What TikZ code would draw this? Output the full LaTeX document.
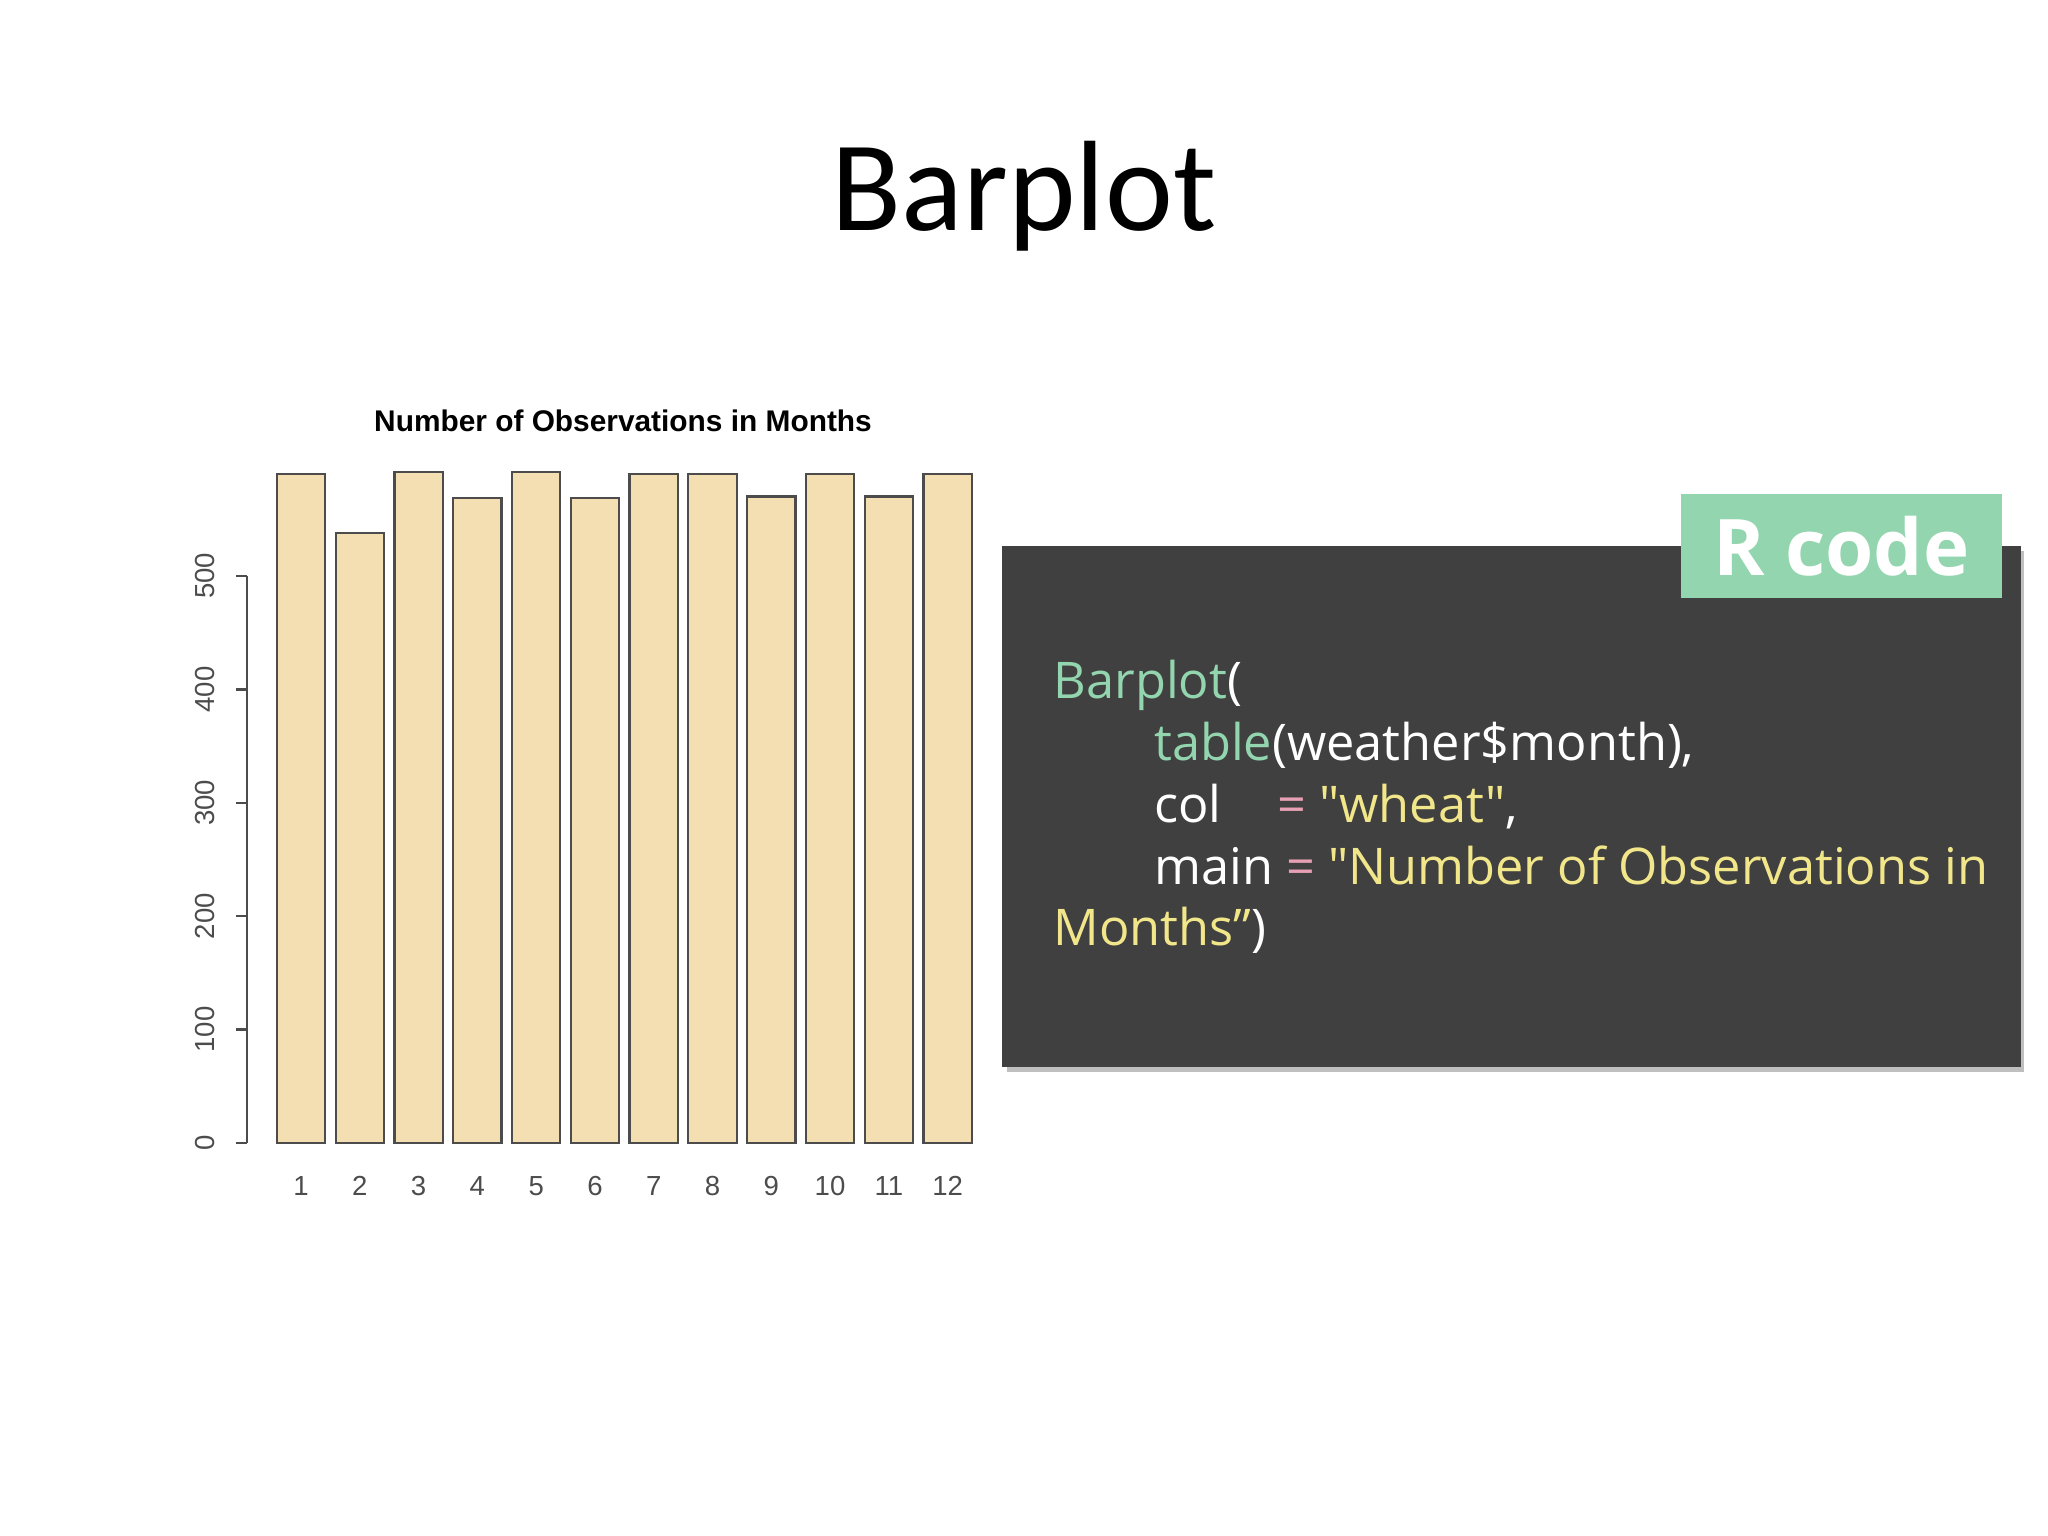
\documentclass[tikz,border=0pt]{standalone}
\usepackage{fontspec}
\setmainfont{Carlito}
\newfontfamily\codefont{Open Sans}
\newfontfamily\plotfont{Liberation Sans}
\begin{document}
\begin{tikzpicture}[x=0.01cm,y=-0.01cm,
  bar/.style={draw=black!70,fill=wheatc,line width=0.5pt},
  axis/.style={draw=black!70,line width=0.5pt},
  ylab/.style={font=\plotfont\fontsize{6}{7}\selectfont,text=black!70,rotate=90},
  xlab/.style={font=\plotfont\fontsize{6}{7}\selectfont,text=black!70},
  code/.style={font=\codefont\fontsize{11}{13}\selectfont,anchor=base west,inner sep=0}]
\definecolor{wheatc}{HTML}{F3DFB2}
\definecolor{boxc}{HTML}{404040}
\definecolor{greenc}{HTML}{92D5AE}
\definecolor{yelc}{HTML}{F2E68A}
\definecolor{pinkc}{HTML}{E8A0B4}
\useasboundingbox (0,0) rectangle (1568,1176);
\node (title) at (784,150) {\fontsize{28}{32}\selectfont Barplot};
\node (ptitle) at (477,322) {\plotfont\bfseries\fontsize{6.5}{8}\selectfont Number of Observations in Months};
\foreach \v [count=\i] in {590,538,592,569,592,569,590,590,570,590,570,590}{
  \pgfmathsetmacro\xl{212+(\i-1)*45}
  \draw[bar] (\xl,875) rectangle (\xl+37,875-\v*0.868);
  \node[xlab] (m\i) at (\xl+18.5,908) {\i};
}
\draw[axis] (189,441) -- (189,875);
\foreach \t in {0,100,...,500}{
  \draw[axis] (181,875-\t*0.868) -- (189,875-\t*0.868);
  \node[ylab] (y\t) at (157,875-\t*0.868) {\t};
}
\fill[black!25] (771,422) rectangle (1550,821);
\fill[boxc] (767,418) rectangle (1547,817);
\node[fill=greenc,minimum width=246*0.01cm,minimum height=79*0.01cm,inner sep=0,
  text=white,font=\codefont\bfseries\fontsize{17}{20}\selectfont] (tab) at (1410,418) {R code};
\node[code] (c1) at (806,535) {\textcolor{greenc}{Barplot}\textcolor{white}{(}};
\node[code] (c2) at (883,582) {\textcolor{greenc}{table}\textcolor{white}{(weather\$month),}};
\node[code] (c3) at (883,630) {\textcolor{white}{col}\hspace{1.1em}\textcolor{pinkc}{=} \textcolor{yelc}{"wheat"}\textcolor{white}{,}};
\node[code] (c4) at (883,677) {\textcolor{white}{main} \textcolor{pinkc}{=} \textcolor{yelc}{"Number of Observations in}};
\node[code] (c5) at (806,724) {\textcolor{yelc}{Months”}\textcolor{white}{)}};
\end{tikzpicture}
\end{document}
